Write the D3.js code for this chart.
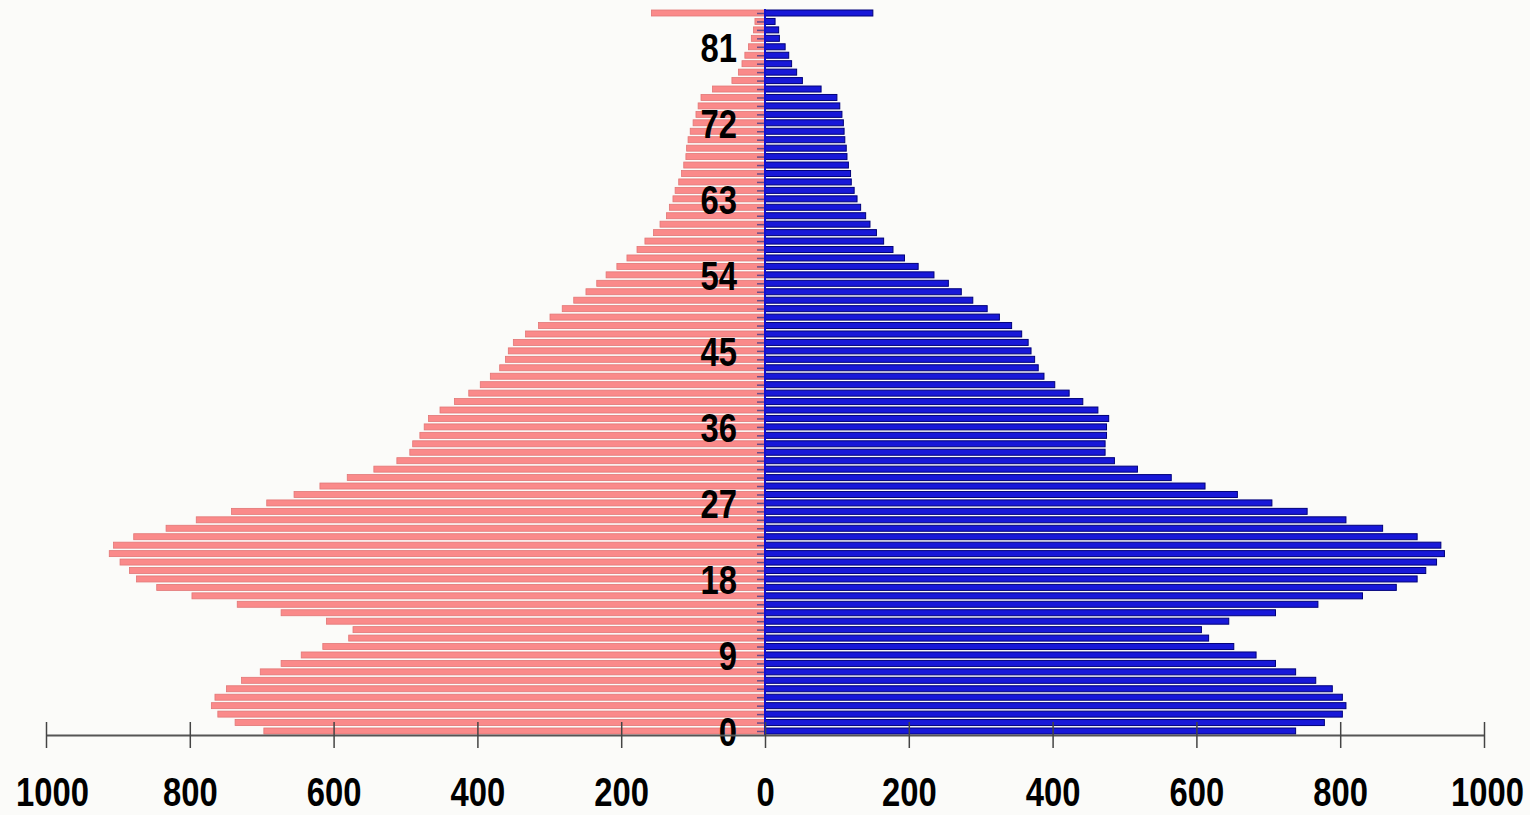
<!DOCTYPE html>
<html>

<head>
    <meta charset="utf-8">
    <script src="https://d3js.org/d3.v7.min.js"></script>
    <style>
        body { margin: 0; background: #fbfbf9; }
        svg { display: block; }
        .lbl { font-family: "Liberation Sans", Arial, sans-serif; font-weight: bold; fill: #000; }
    </style>

    <script type="text/javascript">
        // ages 0..85 (last one is the open top group)
        let ages = d3.range(0, 86);

        let female = [697, 737, 761, 770, 765, 749, 728, 702, 673, 645,
                      615, 579, 573, 610, 673, 734, 797, 846, 874, 884,
                      897, 912, 906, 878, 833, 791, 742, 693, 655, 619,
                      581, 544, 512, 494, 490, 480, 474, 468, 452, 432,
                      412, 396, 382, 369, 361, 357, 350, 333, 315, 299,
                      282, 266, 249, 234, 221, 206, 192, 178, 167, 155,
                      146, 137, 133, 128, 125, 120, 116, 113, 110, 109,
                      107, 104, 100, 96, 93, 89, 73, 46, 37, 32,
                      28, 23, 19, 16, 14, 158];

        let male = [738, 778, 803, 808, 803, 789, 766, 738, 710, 683,
                    652, 617, 607, 645, 710, 769, 831, 878, 907, 919,
                    934, 945, 940, 907, 859, 808, 754, 705, 657, 612,
                    565, 518, 486, 473, 473, 475, 475, 478, 463, 442,
                    423, 403, 388, 380, 375, 370, 366, 357, 343, 326,
                    309, 289, 273, 255, 235, 213, 194, 178, 165, 155,
                    146, 140, 133, 128, 124, 120, 119, 116, 114, 113,
                    111, 110, 109, 107, 104, 100, 78, 52, 44, 37,
                    33, 28, 20, 19, 14, 150];

        let ageLabels = [0, 9, 18, 27, 36, 45, 54, 63, 72, 81];
        let xTicks = [-1000, -800, -600, -400, -200, 0, 200, 400, 600, 800, 1000];

        function draw() {
            let width = 1530,
                height = 815;

            let svg = d3.select("body")
                .append("svg")
                    .attr("width", width)
                    .attr("height", height);

            svg.append("rect")
                .attr("width", width)
                .attr("height", height)
                .attr("fill", "#fbfbf9");

            let x = d3.scaleLinear()
                .domain([-1000, 1000])
                .range([46, 1484]);

            let y = d3.scaleLinear()
                .domain([0, 85])
                .range([731, 13]);

            let barH = 6;
            let squeeze = 0.8; // narrow-looking digits

            let rows = ages.map((a, i) => ({ age: a, f: female[i], m: male[i] }));

            // women, to the left
            svg.append("g").selectAll("rect")
                .data(rows)
                .join("rect")
                    .attr("x", d => x(-d.f))
                    .attr("y", d => y(d.age) - barH / 2)
                    .attr("width", d => x(0) - x(-d.f))
                    .attr("height", barH)
                    .attr("fill", "#fa8a8a")
                    .attr("stroke", "#e27676")
                    .attr("stroke-width", 0.8);

            // men, to the right
            svg.append("g").selectAll("rect")
                .data(rows)
                .join("rect")
                    .attr("x", x(0))
                    .attr("y", d => y(d.age) - barH / 2)
                    .attr("width", d => x(d.m) - x(0))
                    .attr("height", barH)
                    .attr("fill", "#1818d8")
                    .attr("stroke", "#00007a")
                    .attr("stroke-width", 1);

            // centre line with small age ticks
            let yAxis = d3.axisLeft(y)
                .tickValues(ages)
                .tickSize(8)
                .tickFormat("");
            let gy = svg.append("g")
                .attr("transform", `translate(${x(0)},0)`)
                .call(yAxis);
            gy.select(".domain").remove();
            gy.selectAll(".tick line").attr("stroke", "#6b4c86").attr("stroke-width", 1.5);

            svg.append("line")
                .attr("x1", x(0)).attr("x2", x(0))
                .attr("y1", y(85) - 4).attr("y2", y(0) + 4)
                .attr("stroke", "#1010d0")
                .attr("stroke-width", 2);

            // age labels
            svg.append("g").selectAll("text")
                .data(ageLabels)
                .join("text")
                    .attr("class", "lbl")
                    .attr("transform", d => `translate(737,${y(d)}) scale(${squeeze},1)`)
                    .attr("dy", "0.36em")
                    .attr("text-anchor", "end")
                    .attr("font-size", 41)
                    .text(d => d);

            // bottom axis
            let xAxis = d3.axisBottom(x)
                .tickValues(xTicks)
                .tickSizeOuter(0)
                .tickSizeInner(13)
                .tickFormat(d => Math.abs(d));

            let gx = svg.append("g")
                .attr("transform", "translate(0,735)")
                .call(xAxis);

            gx.select(".domain")
                .attr("stroke", "#555")
                .attr("stroke-width", 2.2);
            gx.selectAll(".tick line")
                .attr("y1", -13)
                .attr("y2", 13)
                .attr("stroke", "#444")
                .attr("stroke-width", 1.5);
            gx.selectAll(".tick text")
                .attr("class", "lbl")
                .attr("y", null)
                .attr("dy", null)
                .attr("transform", (d, i) => `translate(${i === 0 ? 6 : (i === xTicks.length - 1 ? 3 : 0)},71) scale(${squeeze + 0.02},1)`)
                .attr("font-size", 40)
                .attr("font-family", null);
        }
    </script>
</head>

<body>
    <script type="text/javascript">
        draw();
    </script>
</body>

</html>
